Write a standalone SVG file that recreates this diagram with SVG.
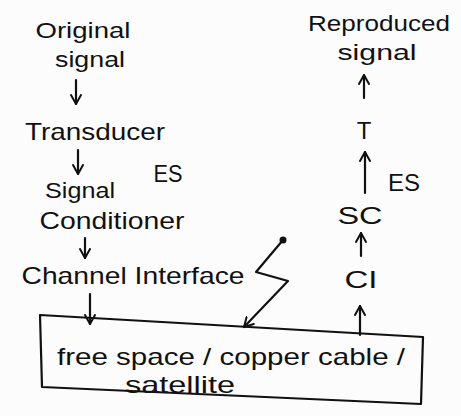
<svg xmlns="http://www.w3.org/2000/svg" width="461" height="416" viewBox="0 0 461 416">
  <style>
    .lbl { font-family: "Liberation Sans", "DejaVu Sans", sans-serif; font-size: 24px; fill: #111; text-anchor: middle; }
    .sm { font-size: 22px; }
    .ln { stroke: #111; stroke-width: 2.2; fill: none; stroke-linecap: round; stroke-linejoin: round; }
  </style>
  <defs>
    <marker id="head" viewBox="0 0 12 12" refX="10" refY="6" markerWidth="12" markerHeight="12" markerUnits="userSpaceOnUse" orient="auto">
      <path d="M1 1 L10 6 L1 11" fill="none" stroke="#111" stroke-width="2" stroke-linecap="round" stroke-linejoin="round"/>
    </marker>
  </defs>
  <rect width="461" height="416" fill="#fdfcfc"/>

  <!-- transmitter chain -->
  <g id="original-signal">
    <text class="lbl sm" x="83" y="38" textLength="95" lengthAdjust="spacingAndGlyphs">Original</text>
    <text class="lbl sm" x="90" y="67" textLength="70" lengthAdjust="spacingAndGlyphs">signal</text>
  </g>
  <g id="transducer">
    <text class="lbl" x="95" y="140" textLength="140" lengthAdjust="spacingAndGlyphs">Transducer</text>
  </g>
  <g id="es-left">
    <text class="lbl" x="168" y="182" textLength="29" lengthAdjust="spacingAndGlyphs">ES</text>
  </g>
  <g id="signal-conditioner">
    <text class="lbl sm" x="80" y="198" textLength="70" lengthAdjust="spacingAndGlyphs">Signal</text>
    <text class="lbl" x="112" y="229" textLength="145" lengthAdjust="spacingAndGlyphs">Conditioner</text>
  </g>
  <g id="channel-interface">
    <text class="lbl" x="133" y="284" textLength="223" lengthAdjust="spacingAndGlyphs">Channel Interface</text>
  </g>

  <!-- transmission medium -->
  <g id="medium">
    <path class="ln" d="M40 315 L423 337 L421 404 L42 387 Z"/>
    <text class="lbl" x="231" y="365" textLength="348" lengthAdjust="spacingAndGlyphs">free space / copper cable /</text>
    <text class="lbl" x="180" y="393" textLength="110" lengthAdjust="spacingAndGlyphs">satellite</text>
  </g>

  <!-- receiver chain -->
  <g id="ci">
    <text class="lbl" x="361" y="288" textLength="33" lengthAdjust="spacingAndGlyphs">CI</text>
  </g>
  <g id="sc">
    <text class="lbl" x="360" y="224" textLength="45" lengthAdjust="spacingAndGlyphs">SC</text>
  </g>
  <g id="es-right">
    <text class="lbl" x="404" y="191" textLength="32" lengthAdjust="spacingAndGlyphs">ES</text>
  </g>
  <g id="t">
    <text class="lbl" x="364" y="139">T</text>
  </g>
  <g id="reproduced-signal">
    <text class="lbl sm" x="379" y="31" textLength="142" lengthAdjust="spacingAndGlyphs">Reproduced</text>
    <text class="lbl sm" x="377" y="60" textLength="79" lengthAdjust="spacingAndGlyphs">signal</text>
  </g>

  <g id="connectors">
    <line class="ln" x1="76" y1="80" x2="76" y2="104" marker-end="url(#head)"/>
    <line class="ln" x1="78" y1="150" x2="78" y2="174" marker-end="url(#head)"/>
    <line class="ln" x1="85" y1="238" x2="85" y2="258" marker-end="url(#head)"/>
    <line class="ln" x1="90" y1="294" x2="90" y2="324" marker-end="url(#head)"/>
    <!-- wireless link -->
    <circle cx="283" cy="240" r="3.5" fill="#111"/>
    <path class="ln" d="M283 240 L256 272 L288 281 L244 327" marker-end="url(#head)"/>
    <line class="ln" x1="360" y1="335" x2="360" y2="306" marker-end="url(#head)"/>
    <line class="ln" x1="361" y1="256" x2="361" y2="233" marker-end="url(#head)"/>
    <line class="ln" x1="365" y1="193" x2="365" y2="152" marker-end="url(#head)"/>
    <line class="ln" x1="364" y1="98" x2="364" y2="75" marker-end="url(#head)"/>
  </g>
</svg>
